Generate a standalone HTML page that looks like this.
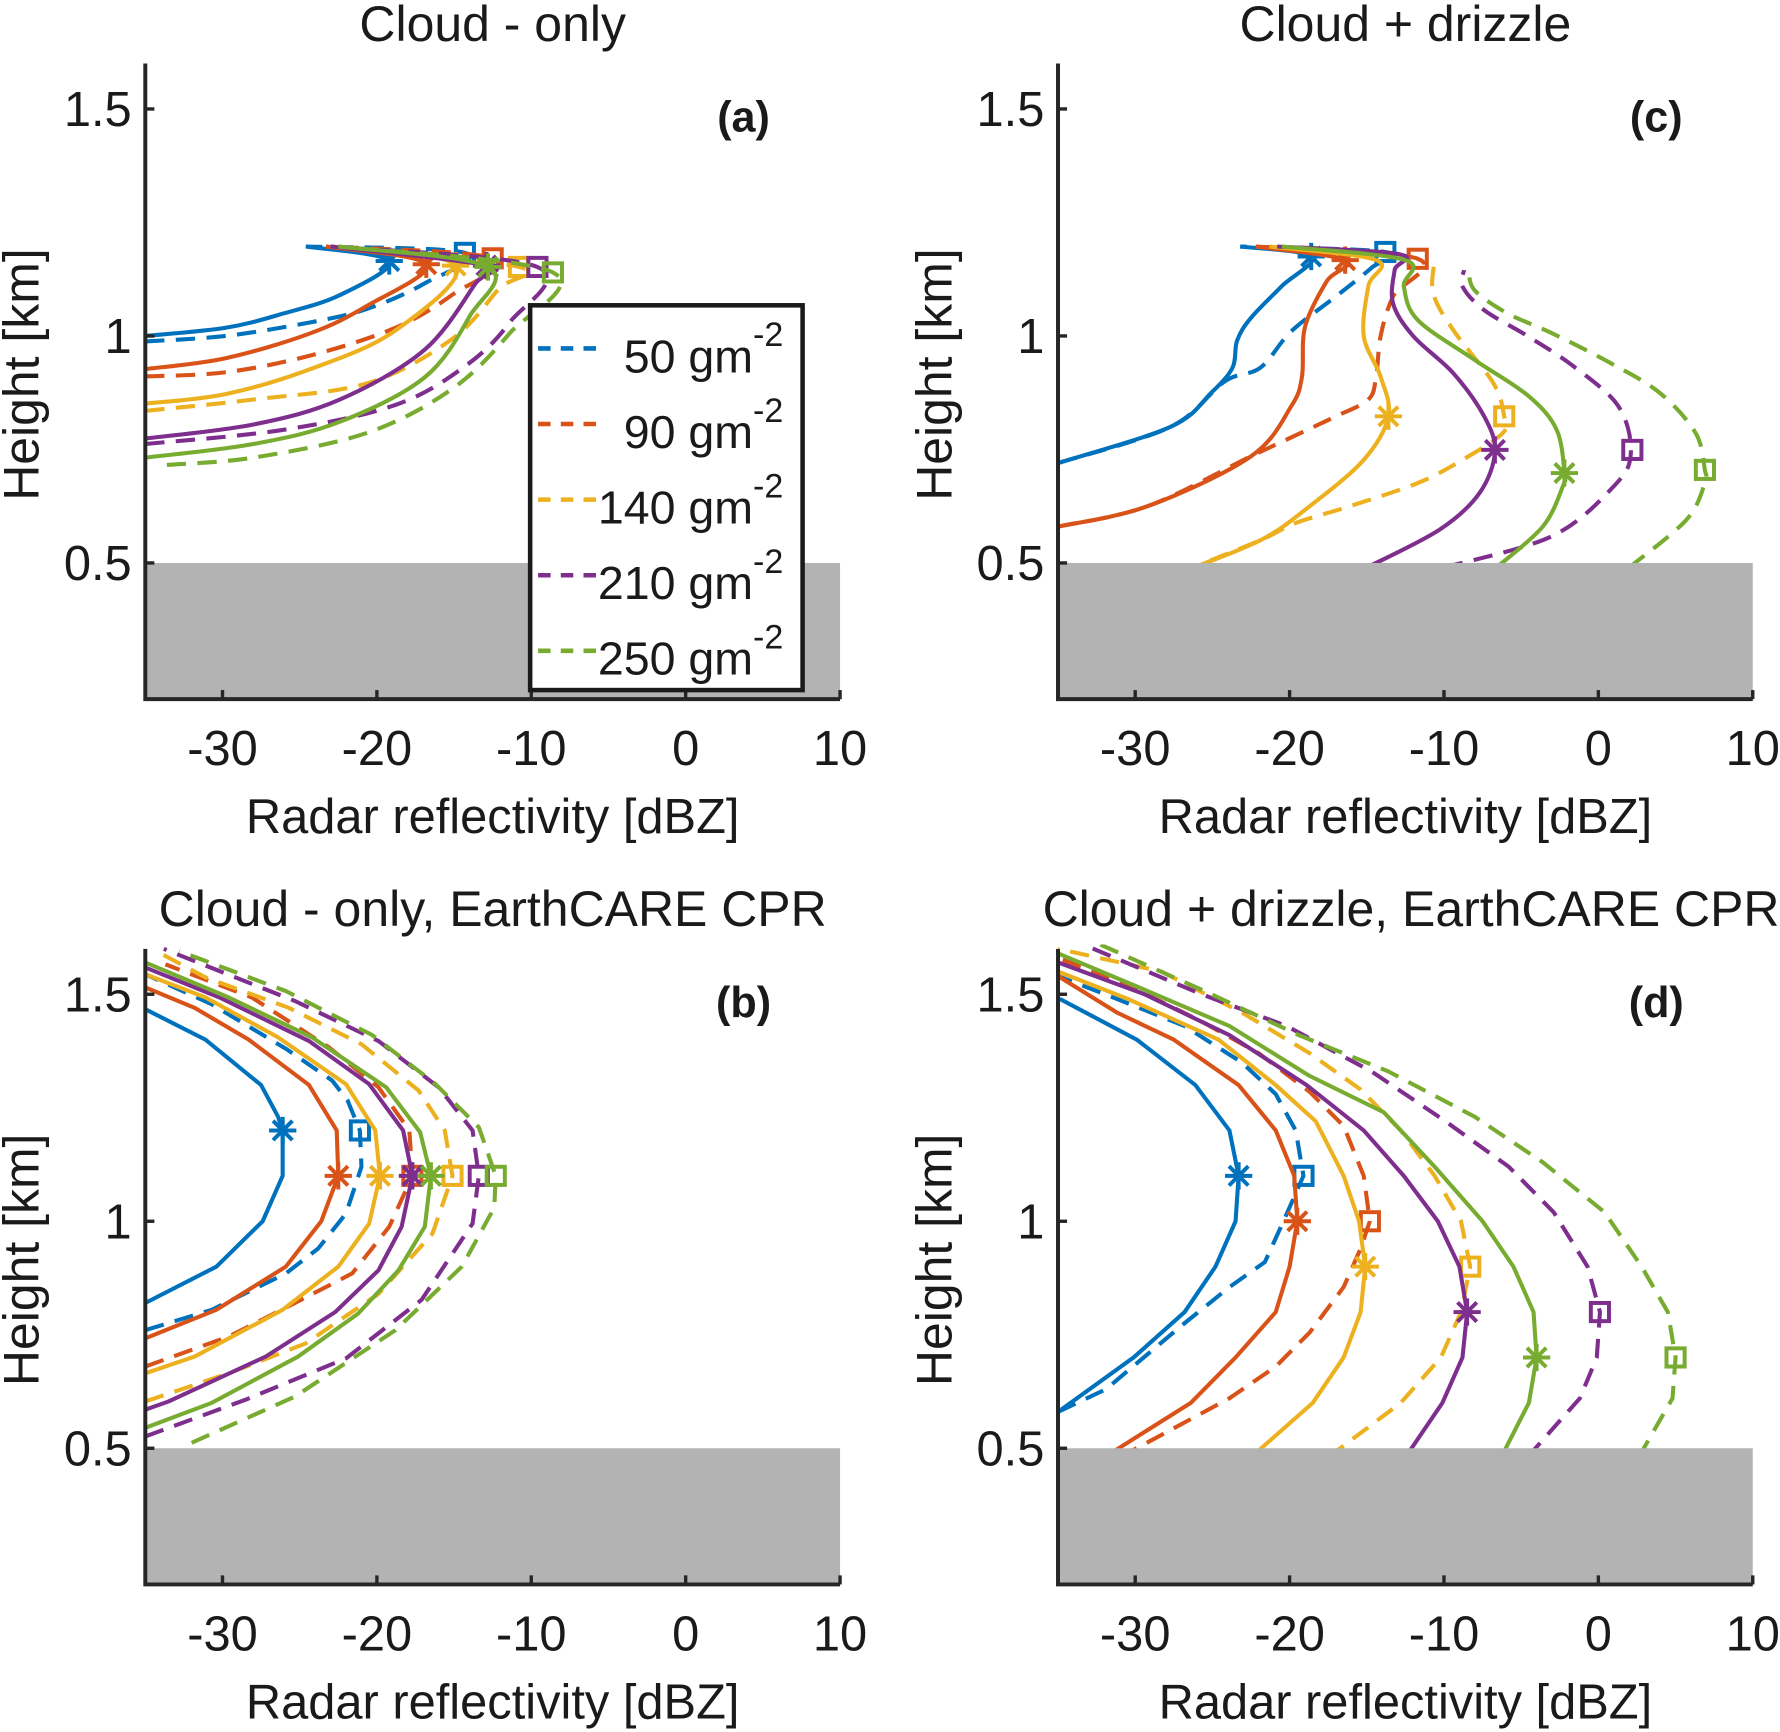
<!DOCTYPE html>
<html><head><meta charset="utf-8"><style>
html,body{margin:0;padding:0;background:#fff;}
svg{display:block;}
text{font-family:"Liberation Sans",sans-serif;fill:#1a1a1a;}
</style></head><body>
<svg id="fig" width="1780" height="1732" viewBox="0 0 1568 1526" preserveAspectRatio="none" xmlns="http://www.w3.org/2000/svg"></svg>
<script>
const seriesNames = ["50","90","140","210","250"];
const seriesColors = ["#0072BD","#D95319","#EDB120","#7E2F8E","#77AC30"];
const xTicks = [-30,-20,-10,0,10];
const yTicks = [0.5,1,1.5];
const yTickLabels = ["0.5","1","1.5"];

const aSolid = [
 [[-35,1.0],[-29.8,1.018],[-26.1,1.049],[-22.4,1.09],[-19.2,1.165],[-24.6,1.197]],
 [[-35,0.927],[-29.8,0.951],[-24.3,1.006],[-20.6,1.067],[-16.8,1.158],[-23.3,1.197]],
 [[-35,0.851],[-29.8,0.872],[-24.3,0.927],[-18.8,1.012],[-14.9,1.155],[-23,1.197]],
 [[-35,0.774],[-28,0.805],[-22.4,0.86],[-16.9,0.97],[-13.6,1.116],[-12.9,1.155],[-23,1.197]],
 [[-35,0.732],[-28,0.762],[-22.4,0.811],[-16.9,0.909],[-14,1.043],[-12.8,1.152],[-22.5,1.197]]];
const aDashed = [
 [[-35,0.988],[-29.8,1.0],[-24.3,1.03],[-20.6,1.06],[-16.9,1.116],[-14.3,1.183],[-24.6,1.197]],
 [[-35,0.911],[-29.8,0.92],[-24.3,0.957],[-18.8,1.018],[-15.1,1.091],[-12.5,1.171],[-23.3,1.197]],
 [[-35,0.835],[-28,0.86],[-20.6,0.896],[-15.1,0.994],[-12.1,1.104],[-10.8,1.152],[-23,1.197]],
 [[-35,0.762],[-26.1,0.793],[-18.8,0.848],[-14.3,0.933],[-11.4,1.03],[-9.6,1.152],[-23,1.197]],
 [[-33.6,0.716],[-28,0.732],[-20.6,0.787],[-15.1,0.884],[-11.4,1.006],[-8.6,1.14],[-22.5,1.197]]];
const aStars = [[-19.2,1.165],[-16.8,1.158],[-14.9,1.155],[-12.9,1.155],[-12.8,1.152]];
const aSquares = [[-14.3,1.183],[-12.5,1.171],[-10.8,1.152],[-9.6,1.152],[-8.6,1.14]];

const cSolid = [
 [[-35,0.72],[-27.7,0.8],[-25.1,0.874],[-23.7,0.93],[-23.4,0.99],[-22.5,1.04],[-20.5,1.11],[-18.6,1.175],[-23.2,1.197]],
 [[-35,0.58],[-29.2,0.625],[-22.5,0.735],[-19.9,0.845],[-19.2,0.91],[-19,1.02],[-17.6,1.12],[-16.4,1.167],[-22.2,1.197]],
 [[-27,0.48],[-21.9,0.55],[-18.7,0.625],[-15.2,0.727],[-13.6,0.823],[-14.1,0.91],[-15.2,1.0],[-14.9,1.11],[-14.4,1.167],[-21.3,1.197]],
 [[-15,0.49],[-10.3,0.573],[-7.7,0.654],[-6.7,0.745],[-7.4,0.823],[-9.4,0.918],[-12,1.0],[-13.3,1.072],[-13.2,1.145],[-12.9,1.18],[-20.8,1.197]],
 [[-6.6,0.49],[-3.6,0.58],[-2.3,0.669],[-2.2,0.698],[-2.7,0.793],[-4.5,0.867],[-8,0.947],[-11.7,1.035],[-12.6,1.109],[-12.5,1.167],[-20.5,1.197]]];
const cDashed = [
 [[-35,0.72],[-27.7,0.8],[-24.2,0.9],[-21.9,0.93],[-19.9,1.01],[-17,1.087],[-14.7,1.15],[-13.8,1.185],[-23.2,1.197]],
 [[-35,0.58],[-29.2,0.625],[-22.5,0.735],[-19.3,0.786],[-17,0.823],[-14.9,0.86],[-14.4,0.91],[-14.1,1.0],[-13.3,1.087],[-11.7,1.17],[-22.2,1.197]],
 [[-27,0.48],[-21.9,0.55],[-19.6,0.588],[-16.1,0.625],[-11.7,0.676],[-8.8,0.727],[-6.2,0.786],[-6.1,0.823],[-6.8,0.896],[-9.4,1.013],[-10.7,1.094],[-10.6,1.167]],
 [[-10,0.49],[-3,0.559],[1,0.669],[2.1,0.742],[1.3,0.845],[-1.6,0.933],[-4.5,0.998],[-7.4,1.057],[-8.8,1.109],[-8.7,1.145]],
 [[2,0.49],[5.7,0.595],[6.9,0.676],[6.9,0.705],[6.3,0.786],[4,0.874],[0.8,0.94],[-3,1.006],[-5.9,1.05],[-8,1.1],[-8.4,1.141]]];
const cStars = [[-18.6,1.175],[-16.4,1.167],[-13.6,0.823],[-6.7,0.749],[-2.2,0.698]];
const cSquares = [[-13.8,1.185],[-11.7,1.17],[-6.1,0.823],[2.2,0.749],[6.9,0.705]];

const bSolid = [
 [[-35,0.82],[-30.4,0.9],[-27.4,1.0],[-26.1,1.1],[-26.1,1.2],[-26.4,1.23],[-27.5,1.3],[-31.1,1.4],[-35,1.467]],
 [[-35,0.742],[-30.4,0.805],[-25.9,0.9],[-23.6,1.0],[-22.5,1.1],[-22.6,1.2],[-24.4,1.3],[-28.3,1.4],[-31.8,1.47],[-35,1.515]],
 [[-35,0.665],[-31.8,0.702],[-26.1,0.805],[-22.5,0.9],[-20.5,0.995],[-19.8,1.1],[-20.1,1.2],[-22,1.302],[-26.4,1.405],[-31.1,1.493],[-35,1.544]],
 [[-35,0.585],[-33.5,0.603],[-27.2,0.702],[-22.7,0.8],[-19.9,0.892],[-18.4,0.988],[-17.7,1.1],[-18.3,1.2],[-20.5,1.302],[-24.4,1.397],[-30.2,1.493],[-35,1.559]],
 [[-35,0.545],[-30.7,0.6],[-25.1,0.702],[-21.2,0.797],[-18.6,0.892],[-16.9,0.988],[-16.5,1.1],[-17.2,1.196],[-19.4,1.295],[-24.2,1.405],[-29.6,1.493],[-35,1.57]]];
const bDashed = [
 [[-35,0.76],[-30.7,0.805],[-25.9,0.885],[-23.8,0.94],[-22,1.017],[-21,1.12],[-21.1,1.2],[-21.9,1.266],[-22.9,1.31],[-25.9,1.38],[-30.7,1.478],[-35,1.544]],
 [[-35,0.68],[-29.6,0.746],[-25.3,0.82],[-21.6,0.885],[-19.2,0.988],[-17.7,1.1],[-17.9,1.2],[-19.9,1.295],[-23.1,1.383],[-28.1,1.493],[-33.7,1.566]],
 [[-35,0.603],[-29.6,0.665],[-24.6,0.731],[-19.9,0.84],[-16.4,0.973],[-15.1,1.1],[-15.6,1.2],[-17.3,1.288],[-21,1.39],[-25.7,1.47],[-31.1,1.537],[-33.9,1.588]],
 [[-35,0.526],[-28.5,0.607],[-22,0.698],[-17.1,0.827],[-13.8,0.995],[-13.4,1.1],[-13.8,1.2],[-16,1.295],[-19.9,1.397],[-25.3,1.485],[-31.3,1.566],[-33.8,1.6]],
 [[-32,0.512],[-25.3,0.614],[-18.8,0.76],[-14.5,0.9],[-12.4,1.03],[-12.3,1.1],[-13.4,1.207],[-16.2,1.302],[-20.3,1.41],[-25.9,1.507],[-32.8,1.595]]];
const bStars = [[-26.1,1.2],[-22.5,1.1],[-19.8,1.1],[-17.7,1.1],[-16.5,1.1]];
const bSquares = [[-21.1,1.2],[-17.7,1.1],[-15.1,1.1],[-13.4,1.1],[-12.3,1.1]];

const dSolid = [
 [[-35,0.58],[-30.1,0.7],[-26.8,0.8],[-24.8,0.9],[-23.5,1.0],[-23.3,1.1],[-23.9,1.2],[-26.1,1.3],[-29.9,1.4],[-34.9,1.49]],
 [[-32,0.48],[-26.4,0.6],[-23.5,0.7],[-20.9,0.8],[-20,0.9],[-19.5,1.0],[-19.7,1.1],[-20.9,1.2],[-23.3,1.3],[-27.5,1.4],[-31.2,1.46],[-35,1.54]],
 [[-22.5,0.48],[-18.5,0.6],[-16.5,0.7],[-15.4,0.8],[-15.1,0.9],[-15.5,1.0],[-16.5,1.1],[-18.3,1.22],[-20.9,1.3],[-24.6,1.4],[-30.5,1.49],[-35,1.55]],
 [[-12.5,0.48],[-10.1,0.6],[-8.8,0.7],[-8.5,0.8],[-9,0.9],[-10.4,1.0],[-12.6,1.1],[-15.2,1.2],[-18.9,1.3],[-23.9,1.41],[-29.4,1.5],[-35,1.57]],
 [[-6.3,0.48],[-4.5,0.6],[-4,0.7],[-4.2,0.8],[-5.5,0.9],[-7.5,1.0],[-10.6,1.12],[-13.9,1.24],[-18.7,1.32],[-23.9,1.43],[-29.4,1.51],[-35,1.59]]];
const dDashed = [
 [[-35,0.58],[-31.9,0.63],[-27,0.77],[-23.9,0.855],[-21.6,0.91],[-20.4,1.0],[-19.1,1.1],[-19.6,1.2],[-20.9,1.28],[-23.1,1.35],[-26.8,1.43],[-31.2,1.49],[-35,1.54]],
 [[-31,0.48],[-23.9,0.61],[-20.9,0.68],[-18.7,0.755],[-16.5,0.855],[-15.4,0.94],[-14.8,1.0],[-15.2,1.1],[-16.5,1.21],[-18.7,1.285],[-22,1.37],[-25.7,1.44],[-30.5,1.52],[-35,1.58]],
 [[-17.5,0.48],[-12.8,0.6],[-10.2,0.7],[-8.9,0.8],[-8.3,0.9],[-8.9,1.0],[-10.6,1.1],[-12.8,1.2],[-15.4,1.29],[-18.7,1.37],[-23.1,1.46],[-28.3,1.55],[-35,1.6]],
 [[-4.6,0.48],[-1.2,0.61],[-0.1,0.7],[0.1,0.8],[-0.7,0.9],[-2.9,1.02],[-5.8,1.12],[-9.9,1.22],[-14.7,1.33],[-20.2,1.43],[-25.7,1.5],[-33.4,1.61]],
 [[2.6,0.48],[4.8,0.61],[5,0.7],[4.5,0.8],[2.8,0.9],[0.4,1.02],[-3.6,1.13],[-8,1.23],[-13.6,1.33],[-19.4,1.41],[-25.7,1.51],[-32.3,1.61]]];
const dStars = [[-23.3,1.1],[-19.5,1.0],[-15.1,0.9],[-8.5,0.8],[-4,0.7]];
const dSquares = [[-19.1,1.1],[-14.8,1.0],[-8.3,0.9],[0.1,0.8],[5,0.7]];

const NS = "http://www.w3.org/2000/svg";
const svg = document.getElementById("fig");
function mk(tag, attrs, parent){ const e=document.createElementNS(NS,tag); for(const k in attrs) e.setAttribute(k,attrs[k]); (parent||svg).appendChild(e); return e; }

function pathD(P, smooth){
  if(!smooth || P.length<3) return P.map((q,j)=>(j?"L":"M")+q[0].toFixed(1)+","+q[1].toFixed(1)).join(" ");
  let d = "M"+P[0][0].toFixed(1)+","+P[0][1].toFixed(1);
  for(let i=0;i<P.length-1;i++){
    const p0=P[Math.max(0,i-1)], p1=P[i], p2=P[i+1], p3=P[Math.min(P.length-1,i+2)];
    const t=1/6;
    const c1=[p1[0]+(p2[0]-p0[0])*t, p1[1]+(p2[1]-p0[1])*t];
    const c2=[p2[0]-(p3[0]-p1[0])*t, p2[1]-(p3[1]-p1[1])*t];
    d+=` C${c1[0].toFixed(1)},${c1[1].toFixed(1)} ${c2[0].toFixed(1)},${c2[1].toFixed(1)} ${p2[0].toFixed(1)},${p2[1].toFixed(1)}`;
  }
  return d;
}

const panels = [
 {id:"a", left:128, y15:96, title:"Cloud - only", solid:aSolid, dashed:aDashed, stars:aStars, squares:aSquares, legend:true, smooth:true},
 {id:"c", left:932, y15:96, title:"Cloud + drizzle", solid:cSolid, dashed:cDashed, stars:cStars, squares:cSquares, smooth:true},
 {id:"b", left:128, y15:876, title:"Cloud - only, EarthCARE CPR", solid:bSolid, dashed:bDashed, stars:bStars, squares:bSquares},
 {id:"d", left:932, y15:876, title:"Cloud + drizzle, EarthCARE CPR", solid:dSolid, dashed:dDashed, stars:dStars, squares:dSquares}
];

panels.forEach(p => {
  const xs = v => p.left + (v + 35) * 13.6;
  const ys = v => p.y15 + (1.5 - v) * 400;
  const g = mk("g",{});
  
  
  const x0 = xs(-35), x1 = xs(10), yTop = ys(1.6), yBot = ys(0.2);
  const cp = mk("clipPath",{id:"clip"+p.id}, g);
  mk("rect",{x:x0,y:yTop-4,width:x1-x0,height:yBot-yTop+4},cp);
  const lines = mk("g",{"clip-path":"url(#clip"+p.id+")"}, g);
  for (let i=0;i<5;i++){
    [["solid",p.solid[i],null],["dashed",p.dashed[i],"17 10"]].forEach(([kind,pts,dash])=>{
      const P = pts.map(q=>[xs(q[0]),ys(q[1])]);
      const path = mk("path",{d:pathD(P,p.smooth),fill:"none",stroke:seriesColors[i],"stroke-width":3.6,"stroke-linejoin":"round"},lines);
      if(dash) path.setAttribute("stroke-dasharray",dash);
      
      
    });
    const st = p.stars[i], sx = xs(st[0]), sy = ys(st[1]), r = 12;
    const star = mk("path",{d:`M${sx-r},${sy}H${sx+r}M${sx},${sy-r}V${sy+r}M${sx-8.5},${sy-8.5}L${sx+8.5},${sy+8.5}M${sx-8.5},${sy+8.5}L${sx+8.5},${sy-8.5}`,stroke:seriesColors[i],"stroke-width":3.5,fill:"none"},lines);
    
    
    const sq = p.squares[i];
    const sqr = mk("rect",{x:xs(sq[0])-8,y:ys(sq[1])-8,width:16,height:16,fill:"none",stroke:seriesColors[i],"stroke-width":3.5},lines);
    
    
  }
  const ground = mk("rect",{x:x0,y:ys(0.5),width:x1-x0,height:yBot-ys(0.5),fill:"#b3b3b3"},g);
  
  
  const ax = mk("path",{d:`M${x0},${yTop}V${yBot}H${x1}`,stroke:"#262626","stroke-width":3.5,fill:"none"},g);
  
  
  yTicks.forEach((v,k)=>{
    mk("line",{x1:x0,x2:x0+8,y1:ys(v),y2:ys(v),stroke:"#262626","stroke-width":3},g);
    const t = mk("text",{x:x0-12,y:ys(v)+15,"text-anchor":"end","font-size":43},g);
    t.textContent = yTickLabels[k];
    
    
  });
  xTicks.forEach(v=>{
    mk("line",{x1:xs(v),x2:xs(v),y1:yBot,y2:yBot-8,stroke:"#262626","stroke-width":3},g);
    const t = mk("text",{x:xs(v),y:yBot+58,"text-anchor":"middle","font-size":43},g);
    t.textContent = String(v);
    
    
  });
  const cx = (x0+x1)/2;
  const xl = mk("text",{x:cx,y:yBot+118,"text-anchor":"middle","font-size":43},g);
  xl.textContent = "Radar reflectivity [dBZ]";
  
  
  const ly = (yTop+yBot)/2 - 6, lx = x0 - 94;
  const yl = mk("text",{x:lx,y:ly,"text-anchor":"middle","font-size":44,transform:`rotate(-90 ${lx} ${ly})`},g);
  yl.textContent = "Height [km]";
  
  
  const tt = mk("text",{x:cx+(p.id==="d"?5:0),y:yTop-20,"text-anchor":"middle","font-size":44},g);
  tt.textContent = p.title;
  
  
  const pl = mk("text",{x:x0+527,y:p.y15+20,"text-anchor":"middle","font-size":38,"font-weight":"bold"},g);
  pl.textContent = "(" + p.id + ")";
  
  

  if (p.legend){
    const lg = mk("g",{},g);
    
    
    mk("rect",{x:467,y:269,width:240,height:339,fill:"#fff",stroke:"#1a1a1a","stroke-width":4},lg);
    seriesNames.forEach((n,i)=>{
      const yy = 307 + i*66.6;
      const e = mk("g",{},lg);
      
      
      mk("line",{x1:474,x2:530,y1:yy,y2:yy,stroke:seriesColors[i],"stroke-width":4,"stroke-dasharray":"11 9"},e);
      const t = mk("text",{x:690,y:yy+21,"text-anchor":"end","font-size":41},e);
      t.appendChild(document.createTextNode(n + " gm"));
      const sup = mk("tspan",{dy:-23,"font-size":30},t);
      sup.textContent = "-2";
    });
  }
});
</script>
</body></html>
